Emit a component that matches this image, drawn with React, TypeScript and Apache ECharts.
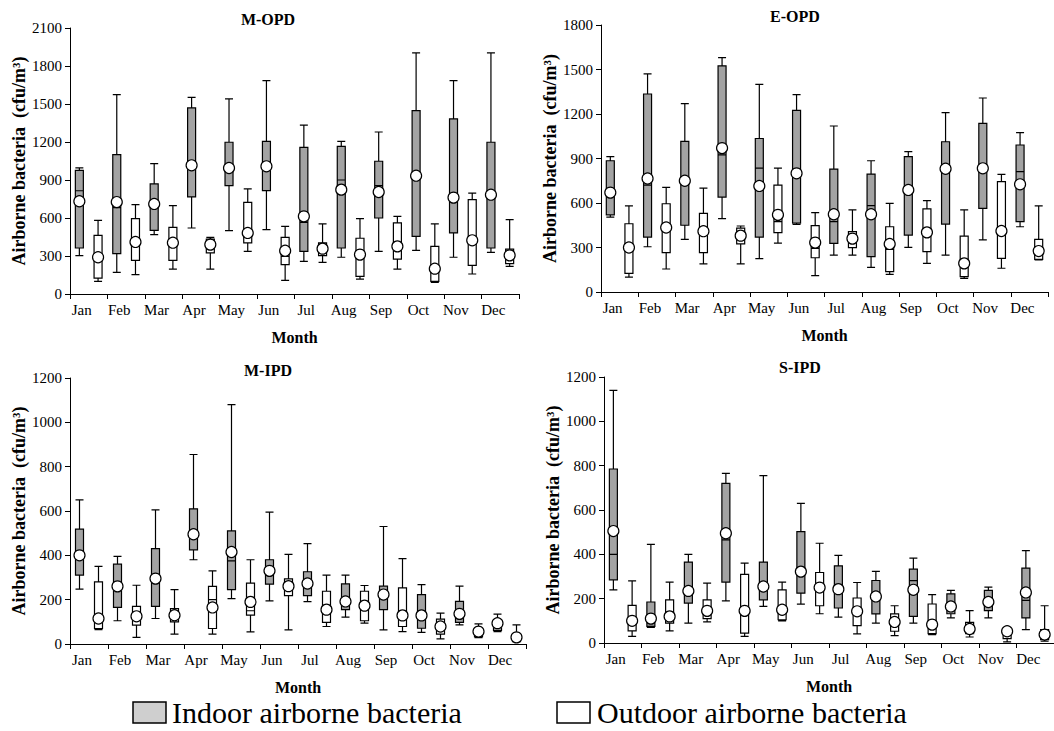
import React, { useEffect, useRef } from "react";
import * as echarts from "echarts";

const MONTHS = ["Jan", "Feb", "Mar", "Apr", "May", "Jun", "Jul", "Aug", "Sep", "Oct", "Nov", "Dec"];
const Y_TITLE = "Airborne bacteria  (cfu/m\u00b3)";
const X_TITLE = "Month";
const PANEL_TITLES = ["M-OPD", "E-OPD", "M-IPD", "S-IPD"];
const LEGEND_LABELS = ["Indoor airborne bacteria", "Outdoor airborne bacteria"];

// [min, Q1, median, Q3, max]
const M_OPD_IN = [
  [303, 363, 815, 976, 995], [171, 318, 682, 1100, 1574], [468, 503, 700, 869, 1029], [521, 766, 1000, 1469, 1553],
  [500, 855, 990, 1198, 1540], [508, 816, 1000, 1205, 1684], [258, 337, 566, 1158, 1334], [290, 363, 900, 1166, 1205],
  [337, 600, 855, 1048, 1279], [345, 455, 930, 1448, 1903], [290, 482, 760, 1382, 1684], [329, 363, 780, 1198, 1903],
];
const M_OPD_IN_MEAN = [732, 726, 711, 1016, 995, 1008, 613, 824, 805, 934, 761, 784];
const M_OPD_OUT = [
  [100, 126, 275, 463, 582], [153, 266, 405, 595, 705], [197, 266, 395, 526, 697], [197, 324, 395, 434, 447],
  [337, 403, 470, 724, 830], [108, 232, 297, 447, 534], [250, 303, 350, 403, 553], [118, 139, 300, 440, 595],
  [197, 276, 365, 561, 613], [92, 100, 190, 376, 553], [158, 226, 420, 745, 797], [218, 240, 280, 355, 587],
];
const M_OPD_OUT_MEAN = [290, 411, 405, 390, 482, 342, 358, 311, 376, 200, 424, 305];

const E_OPD_IN = [
  [505, 520, 660, 885, 912], [305, 370, 720, 1335, 1470], [355, 450, 750, 1015, 1270], [495, 640, 925, 1525, 1580],
  [225, 370, 835, 1035, 1400], [455, 465, 800, 1225, 1330], [249, 328, 474, 829, 1119], [166, 238, 582, 795, 885],
  [301, 384, 690, 912, 946], [249, 458, 830, 1013, 1209], [351, 564, 830, 1137, 1308], [440, 474, 811, 991, 1074],
];
const E_OPD_IN_MEAN = [670, 765, 750, 970, 715, 800, 524, 524, 688, 831, 834, 726];
const E_OPD_OUT = [
  [100, 125, 290, 460, 580], [155, 265, 430, 595, 705], [190, 265, 410, 530, 700], [190, 325, 380, 430, 445],
  [330, 400, 475, 720, 835], [110, 231, 294, 447, 535], [249, 299, 360, 407, 553], [119, 137, 288, 440, 598],
  [193, 272, 377, 560, 616], [92, 103, 190, 377, 553], [160, 227, 410, 744, 793], [216, 220, 270, 355, 580],
];
const E_OPD_OUT_MEAN = [300, 435, 410, 380, 520, 333, 360, 324, 402, 193, 411, 276];

const M_IPD_IN = [
  [248, 311, 395, 518, 650], [105, 165, 260, 360, 395], [115, 170, 290, 430, 605], [380, 425, 490, 610, 855],
  [205, 245, 375, 510, 1080], [195, 270, 330, 380, 595], [191, 218, 270, 326, 453], [121, 155, 190, 271, 311],
  [64, 155, 240, 261, 530], [52, 71, 130, 223, 268], [86, 98, 140, 192, 261], [56, 61, 90, 109, 135],
];
const M_IPD_IN_MEAN = [400, 260, 295, 495, 415, 330, 273, 192, 223, 129, 136, 94];
const M_IPD_OUT = [
  [65, 70, 110, 280, 350], [30, 85, 130, 170, 265], [45, 100, 140, 160, 245], [45, 70, 200, 260, 330],
  [55, 130, 150, 275, 380], [64, 218, 260, 294, 404], [79, 98, 150, 238, 311], [94, 105, 170, 238, 264],
  [56, 79, 130, 253, 385], [23, 45, 75, 112, 139], [29, 33, 55, 71, 91], [11, 11, 30, 45, 86],
];
const M_IPD_OUT_MEAN = [115, 125, 130, 165, 190, 261, 155, 173, 129, 79, 56, 30];

const S_IPD_IN = [
  [240, 285, 400, 785, 1140], [70, 75, 90, 185, 445], [90, 180, 235, 365, 400], [190, 275, 465, 720, 765],
  [165, 195, 250, 365, 755], [175, 225, 320, 502, 630], [117, 158, 243, 348, 395], [90, 131, 210, 282, 323],
  [90, 120, 281, 333, 383], [113, 132, 165, 222, 237], [113, 146, 185, 237, 252], [60, 113, 192, 338, 417],
];
const S_IPD_IN_MEAN = [505, 110, 235, 495, 255, 322, 243, 210, 240, 165, 185, 228];
const S_IPD_OUT = [
  [30, 55, 100, 170, 280], [55, 90, 110, 195, 275], [95, 110, 150, 195, 270], [30, 45, 145, 310, 360],
  [100, 105, 150, 240, 275], [132, 168, 250, 318, 450], [41, 78, 143, 203, 273], [33, 53, 95, 131, 168],
  [38, 42, 83, 176, 218], [27, 42, 63, 93, 146], [5, 20, 45, 45, 65], [8, 15, 38, 60, 168],
];
const S_IPD_OUT_MEAN = [100, 120, 145, 145, 150, 250, 143, 95, 83, 63, 53, 38];

const Y_MAX = [2100, 1800, 1200, 1200];
const Y_INTERVAL = [300, 300, 200, 200];

const FONT = "'Liberation Serif', 'Times New Roman', serif";
const INDOOR_COLOR = "#a3a3a3";
const LEGEND_GRAY = "#cfcfcf";

const PANELS = [
  { inB: M_OPD_IN, inM: M_OPD_IN_MEAN, outB: M_OPD_OUT, outM: M_OPD_OUT_MEAN },
  { inB: E_OPD_IN, inM: E_OPD_IN_MEAN, outB: E_OPD_OUT, outM: E_OPD_OUT_MEAN },
  { inB: M_IPD_IN, inM: M_IPD_IN_MEAN, outB: M_IPD_OUT, outM: M_IPD_OUT_MEAN },
  { inB: S_IPD_IN, inM: S_IPD_IN_MEAN, outB: S_IPD_OUT, outM: S_IPD_OUT_MEAN },
];

const GRIDS = [
  { left: 70, top: 28, width: 449, height: 266 },
  { left: 601, top: 25, width: 447, height: 267 },
  { left: 70, top: 378, width: 456, height: 266 },
  { left: 604, top: 377, width: 456, height: 266 },
];
const TITLE_POS = [
  [268, 19],
  [795, 16],
  [268, 370],
  [800, 367],
];

function buildOption() {
  const grid: any[] = [];
  const xAxis: any[] = [];
  const yAxis: any[] = [];
  const series: any[] = [];
  const graphic: any[] = [];
  const cats24: string[] = [];
  MONTHS.forEach((m) => {
    cats24.push(m + " in");
    cats24.push(m + " out");
  });

  PANELS.forEach((p, k) => {
    grid.push({ ...GRIDS[k], containLabel: false });
    xAxis.push({
      type: "category",
      gridIndex: k,
      data: cats24,
      show: false,
      boundaryGap: true,
    });
    xAxis.push({
      type: "category",
      gridIndex: k,
      data: MONTHS,
      position: "bottom",
      boundaryGap: true,
      axisLine: { show: true, lineStyle: { color: "#000", width: 1 } },
      axisTick: { show: true, length: 5, lineStyle: { color: "#000" } },
      axisLabel: { color: "#000", fontFamily: FONT, fontSize: 15, margin: 8, padding: [0, 14, 0, 0] },
      splitLine: { show: false },
      name: X_TITLE,
      nameLocation: "middle",
      nameGap: 35,
      nameTextStyle: { color: "#000", fontFamily: FONT, fontSize: 16, fontWeight: "bold" },
    });
    yAxis.push({
      type: "value",
      gridIndex: k,
      min: 0,
      max: Y_MAX[k],
      interval: Y_INTERVAL[k],
      axisLine: { show: true, lineStyle: { color: "#000", width: 1 } },
      axisTick: { show: true, length: 5, lineStyle: { color: "#000" } },
      axisLabel: {
        color: "#000",
        fontFamily: FONT,
        fontSize: 15,
        margin: 8,
        formatter: (v: number) => String(v),
      },
      splitLine: { show: false },
      name: Y_TITLE,
      nameLocation: "middle",
      nameRotate: 90,
      nameGap: 38,
      nameTextStyle: { color: "#000", fontFamily: FONT, fontSize: 18, fontWeight: "bold" },
    });

    const boxData: any[] = [];
    const meanData: any[] = [];
    for (let i = 0; i < 12; i++) {
      boxData.push({ value: p.inB[i], itemStyle: { color: INDOOR_COLOR } });
      boxData.push({ value: p.outB[i], itemStyle: { color: "#ffffff" } });
      meanData.push(p.inM[i]);
      meanData.push(p.outM[i]);
    }
    series.push({
      type: "boxplot",
      xAxisIndex: 2 * k,
      yAxisIndex: k,
      data: boxData,
      boxWidth: [8, 8],
      itemStyle: { borderColor: "#000", borderWidth: 1.2 },
      emphasis: { disabled: true },
      z: 2,
    });
    series.push({
      type: "scatter",
      xAxisIndex: 2 * k,
      yAxisIndex: k,
      data: meanData,
      symbol: "circle",
      symbolSize: 11,
      itemStyle: { color: "#ffffff", borderColor: "#000", borderWidth: 1.2, opacity: 1 },
      emphasis: { disabled: true },
      z: 4,
    });

    graphic.push({
      type: "text",
      x: TITLE_POS[k][0],
      y: TITLE_POS[k][1],
      style: {
        text: PANEL_TITLES[k],
        font: `bold 16px ${FONT}`,
        fill: "#000",
        textAlign: "center",
        textVerticalAlign: "middle",
        align: "center",
        verticalAlign: "middle",
      },
    });
  });

  // legend
  graphic.push({
    type: "rect",
    shape: { x: 133, y: 702, width: 33, height: 21 },
    style: { fill: LEGEND_GRAY, stroke: "#000", lineWidth: 1.5 },
  });
  graphic.push({
    type: "text",
    x: 172,
    y: 712,
    style: {
      text: LEGEND_LABELS[0],
      font: `30px ${FONT}`,
      fill: "#000",
      textAlign: "left",
      textVerticalAlign: "middle",
      align: "left",
      verticalAlign: "middle",
    },
  });
  graphic.push({
    type: "rect",
    shape: { x: 557, y: 702, width: 33, height: 21 },
    style: { fill: "#ffffff", stroke: "#000", lineWidth: 1.5 },
  });
  graphic.push({
    type: "text",
    x: 597,
    y: 712,
    style: {
      text: LEGEND_LABELS[1],
      font: `30px ${FONT}`,
      fill: "#000",
      textAlign: "left",
      textVerticalAlign: "middle",
      align: "left",
      verticalAlign: "middle",
    },
  });

  return {
    animation: false,
    backgroundColor: "#ffffff",
    grid,
    xAxis,
    yAxis,
    series,
    graphic,
  };
}

export default function App() {
  const ref = useRef<HTMLDivElement>(null);
  useEffect(() => {
    if (!ref.current) return;
    const chart = echarts.init(ref.current, null, { renderer: "svg" });
    chart.setOption(buildOption());
    return () => chart.dispose();
  }, []);
  return (
    <div
      ref={ref}
      style={{ position: "fixed", left: 0, top: 0, width: 1054, height: 731, background: "#fff" }}
    />
  );
}
